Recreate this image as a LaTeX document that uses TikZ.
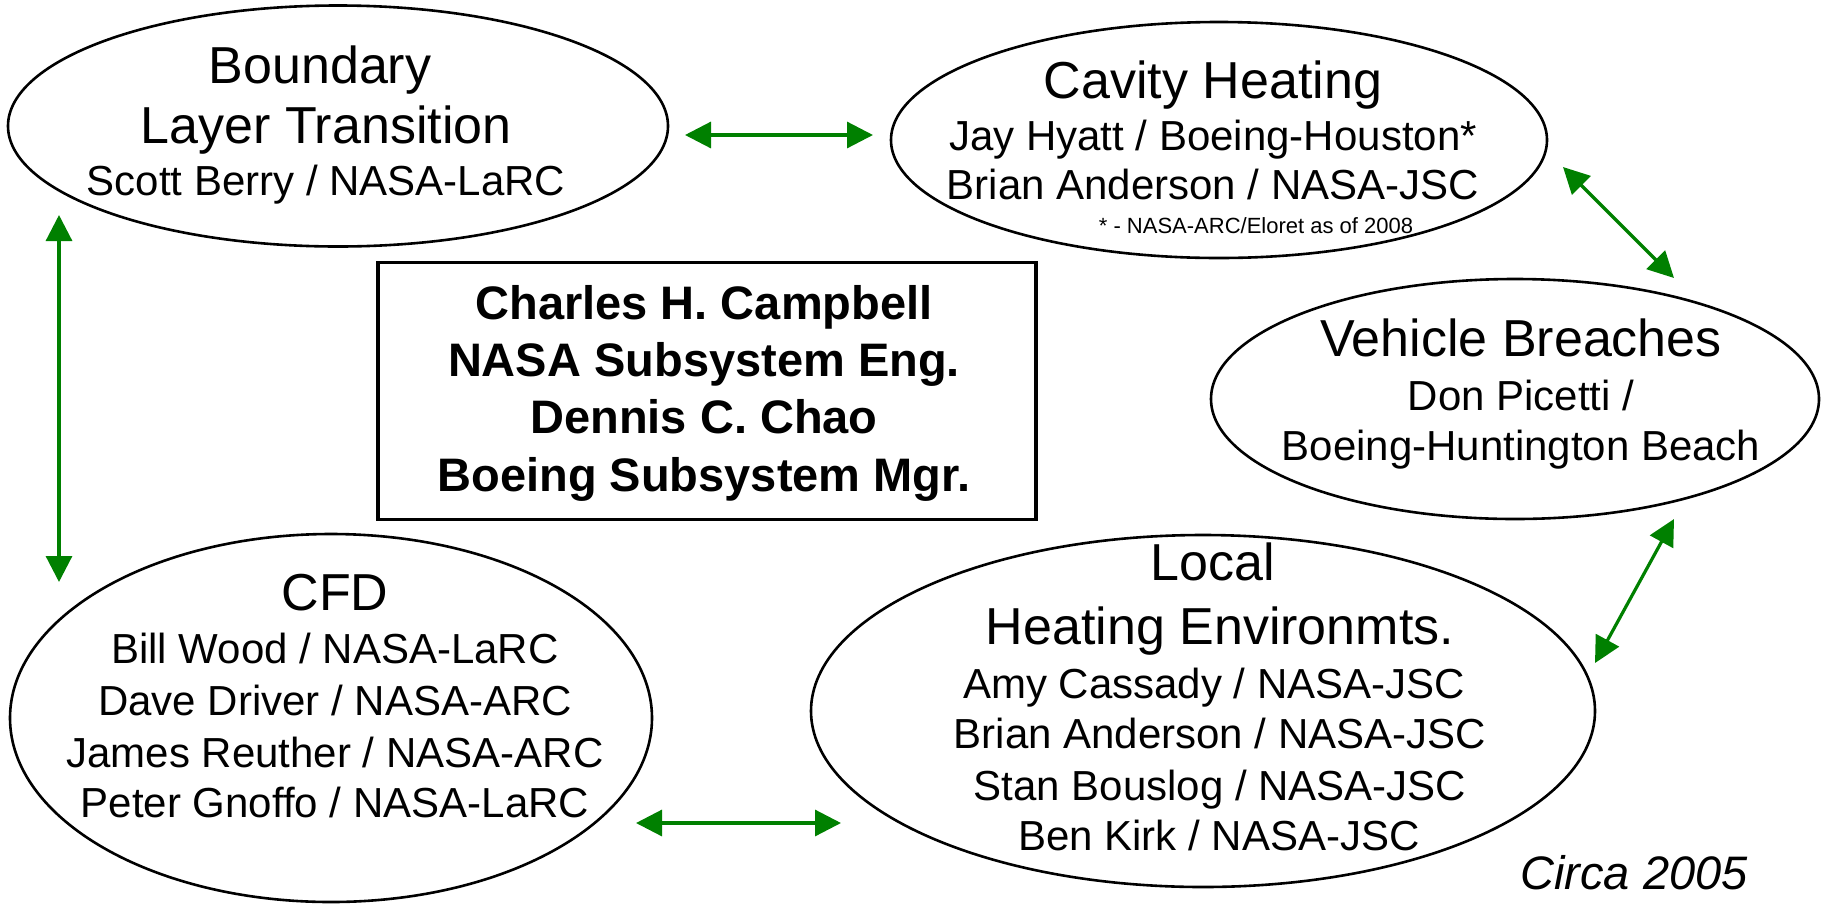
\documentclass[tikz,border=0pt]{standalone}
\usepackage{fontspec}
\setmainfont{Liberation Sans}
\usetikzlibrary{arrows.meta,shapes.geometric}

\definecolor{linkgreen}{RGB}{0,128,0}

\tikzset{
  group/.style={draw, ellipse, line width=2.6pt, inner sep=0pt},
  head/.style={font=\fontsize{52}{62}\selectfont, anchor=base, inner sep=0pt},
  member/.style={font=\fontsize{42}{50}\selectfont, anchor=base, inner sep=0pt},
  lead/.style={font=\fontsize{47}{56}\bfseries\selectfont, anchor=base, inner sep=0pt},
  link/.style={draw=linkgreen, line width=3.2pt,
    {Triangle[length=26pt,width=26pt]}-{Triangle[length=26pt,width=26pt]}},
}

\begin{document}
\begin{tikzpicture}[x=1pt,y=-1pt]
  \useasboundingbox (0,0) rectangle (1826,903);

  % working groups
  \node[group, minimum width=660pt, minimum height=241pt] (blt) at (338,126) {};
  \node[group, minimum width=656pt, minimum height=236pt] (cav) at (1219,140) {};
  \node[group, minimum width=608pt, minimum height=240pt] (veh) at (1515,399) {};
  \node[group, minimum width=642pt, minimum height=368pt] (cfd) at (331,718) {};
  \node[group, minimum width=784pt, minimum height=352pt] (loc) at (1203,711) {};
  \node[draw, line width=3.6pt, minimum width=658pt, minimum height=257pt, inner sep=0pt]
    (mgr) at (707,391) {};

  \node[head] (blt1) at (320,83) {Boundary};
  \node[head] (blt2) at (326,143) {Layer Transition};
  \node[member] (blt3) at (326,195) {Scott Berry / NASA-LaRC};

  \node[head] (cav1) at (1213,98) {Cavity Heating};
  \node[member] (cav2) at (1213,150) {Jay Hyatt / Boeing-Houston*};
  \node[member] (cav3) at (1213,199) {Brian Anderson / NASA-JSC};
  \node[font=\fontsize{22}{26}\selectfont, anchor=base, inner sep=0pt] (cav4) at (1256,233)
    {* - NASA-ARC/Eloret as of 2008};

  \node[head] (veh1) at (1521,356) {Vehicle Breaches};
  \node[member] (veh2) at (1521,410) {Don Picetti /};
  \node[member] (veh3) at (1521,460) {Boeing-Huntington Beach};

  \node[head] (cfd1) at (335,610) {CFD};
  \node[member] (cfd2) at (335,663) {Bill Wood / NASA-LaRC};
  \node[member] (cfd3) at (335,715) {Dave Driver / NASA-ARC};
  \node[member] (cfd4) at (335,767) {James Reuther / NASA-ARC};
  \node[member] (cfd5) at (335,817) {Peter Gnoffo / NASA-LaRC};

  \node[head] (loc1) at (1213,580) {Local};
  \node[head] (loc2) at (1220,644) {Heating Environmts.};
  \node[member] (loc3) at (1214,698) {Amy Cassady / NASA-JSC};
  \node[member] (loc4) at (1220,748) {Brian Anderson / NASA-JSC};
  \node[member] (loc5) at (1220,800) {Stan Bouslog / NASA-JSC};
  \node[member] (loc6) at (1219,850) {Ben Kirk / NASA-JSC};

  \node[lead] (mgr1) at (704,319) {Charles H. Campbell};
  \node[lead] (mgr2) at (704,376) {NASA Subsystem Eng.};
  \node[lead] (mgr3) at (704,433) {Dennis C. Chao};
  \node[lead] (mgr4) at (704,491) {Boeing Subsystem Mgr.};

  \node[font=\fontsize{47}{56}\itshape\selectfont, anchor=base, inner sep=0pt]
    (circa) at (1634,889) {Circa 2005};

  % links
  \coordinate (l1a) at (685,135);  \coordinate (l1b) at (873,135);
  \coordinate (l2a) at (59,215);   \coordinate (l2b) at (59,582);
  \coordinate (l3a) at (1563,167); \coordinate (l3b) at (1674,278);
  \coordinate (l4a) at (1674,519); \coordinate (l4b) at (1595,663);
  \coordinate (l5a) at (636,823);  \coordinate (l5b) at (841,823);

  \draw[link] (l1a) -- (l1b);
  \draw[link] (l2a) -- (l2b);
  \draw[link] (l3a) -- (l3b);
  \draw[link] (l4a) -- (l4b);
  \draw[link] (l5a) -- (l5b);
\end{tikzpicture}
\end{document}
